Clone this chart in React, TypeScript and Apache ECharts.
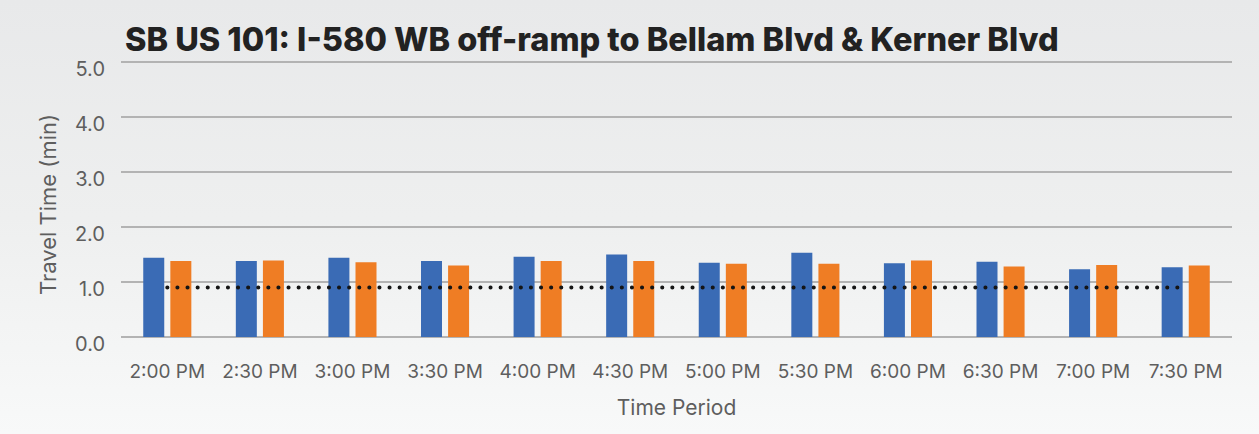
import React, { useEffect, useRef } from "react";
import * as echarts from "echarts";

const categories = ["2:00 PM", "2:30 PM", "3:00 PM", "3:30 PM", "4:00 PM", "4:30 PM", "5:00 PM", "5:30 PM", "6:00 PM", "6:30 PM", "7:00 PM", "7:30 PM"];
const seriesA = [1.44, 1.38, 1.44, 1.38, 1.46, 1.50, 1.35, 1.53, 1.34, 1.37, 1.23, 1.27];
const seriesB = [1.38, 1.39, 1.36, 1.30, 1.38, 1.38, 1.33, 1.33, 1.39, 1.28, 1.31, 1.30];
const freeFlow = [0.9, 0.9, 0.9, 0.9, 0.9, 0.9, 0.9, 0.9, 0.9, 0.9, 0.9, 0.9];
const yTicks = { min: 0, max: 5, interval: 1 };

export default function App() {
  const ref = useRef<HTMLDivElement>(null);
  useEffect(() => {
    if (!ref.current) return;
    const chart = echarts.init(ref.current, null, { renderer: "svg" });
    chart.setOption({
      animation: false,
      backgroundColor: "transparent",
      title: {
        text: "SB US 101: I-580 WB off-ramp to Bellam Blvd & Kerner Blvd",
        left: 120,
        top: 18,
        textStyle: { fontFamily: "Inter", fontWeight: 800, fontSize: 32.5, color: "#222222" },
      },
      grid: { left: 121, right: 27, top: 62, bottom: 97, containLabel: false },
      xAxis: {
        type: "category",
        data: categories,
        axisTick: { show: false },
        axisLine: { show: false },
        axisLabel: { color: "#5e5e5e", fontFamily: "Inter", fontSize: 19, margin: 25, interval: 0 },
        name: "Time Period",
        nameLocation: "middle",
        nameGap: 60,
        nameTextStyle: { color: "#5e5e5e", fontFamily: "Inter", fontSize: 21 },
      },
      yAxis: {
        type: "value",
        min: yTicks.min,
        max: yTicks.max,
        interval: yTicks.interval,
        axisLabel: {
          color: "#5e5e5e",
          fontFamily: "Inter",
          fontSize: 20,
          margin: 16,
          verticalAlign: "top",
          lineHeight: 14,
          formatter: (v: number) => v.toFixed(1),
        },
        splitLine: { lineStyle: { color: "#b3b3b3", width: 2 } },
        name: "Travel Time (min)",
        nameLocation: "middle",
        nameGap: 62,
        nameRotate: 90,
        nameTextStyle: { color: "#5e5e5e", fontFamily: "Inter", fontSize: 22, padding: [0, 10, 0, 0] },
      },
      series: [
        {
          type: "bar",
          data: seriesA,
          barWidth: 21,
          barGap: "29%",
          itemStyle: { color: "#3a6bb5" },
        },
        {
          type: "bar",
          data: seriesB,
          barWidth: 21,
          itemStyle: { color: "#ef7d24" },
        },
        {
          type: "line",
          data: freeFlow,
          symbol: "none",
          lineStyle: { color: "#151515", width: 4, type: [0.1, 10], cap: "round" },
          z: 5,
        },
      ],
    });
    return () => chart.dispose();
  }, []);
  return (
    <div
      style={{
        position: "absolute",
        left: 0,
        top: 0,
        width: 1259,
        height: 434,
        background: "linear-gradient(to bottom, #e8e9ea 0%, #eeefef 50%, #f8f9f9 100%)",
      }}
    >
      <div ref={ref} style={{ width: 1259, height: 434 }} />
    </div>
  );
}
